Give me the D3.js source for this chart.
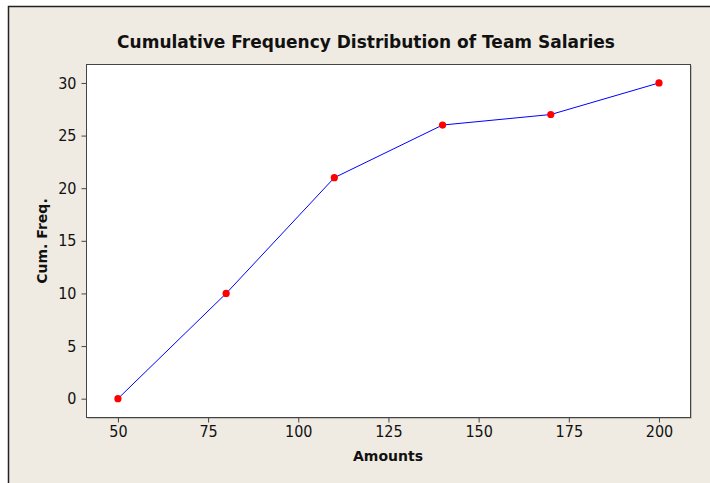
<!DOCTYPE html>
<html>
<head>
<meta charset="utf-8">
<script src="https://cdn.jsdelivr.net/npm/d3@7"></script>
<style>
  body { margin: 0; background: #fff; }
  text { font-family: "DejaVu Sans", Verdana, sans-serif; }
</style>
</head>
<body>
<script>
// data
var amounts = [50, 80, 110, 140, 170, 200];
var cumFreq = [0, 10, 21, 26, 27, 30];
var xTicks = [50, 75, 100, 125, 150, 175, 200];
var yTicks = [0, 5, 10, 15, 20, 25, 30];

var w = 710, h = 483;
var plot = {left: 86, top: 64, right: 690, bottom: 417};

var svg = d3.select("body").append("svg")
    .attr("width", w)
    .attr("height", h);

// outer frame
svg.append("rect")
    .attr("x", 8.5).attr("y", 6.5)
    .attr("width", w + 10).attr("height", h + 10)
    .attr("fill", "#efebe2")
    .attr("stroke", "#222")
    .attr("stroke-width", 1.5);

var x = d3.scaleLinear()
    .domain([41.15, 208.6])
    .range([plot.left, plot.right]);

var y = d3.scaleLinear()
    .domain([-1.74, 31.8])
    .range([plot.bottom, plot.top]);

// plot area
svg.append("rect")
    .attr("x", plot.left + 1.5).attr("y", plot.top + 1.5)
    .attr("width", plot.right - plot.left).attr("height", plot.bottom - plot.top)
    .attr("fill", "#9a968e");
svg.append("rect")
    .attr("x", plot.left + 0.5).attr("y", plot.top + 0.5)
    .attr("width", plot.right - plot.left).attr("height", plot.bottom - plot.top)
    .attr("fill", "#fff")
    .attr("stroke", "#444")
    .attr("stroke-width", 1);

var xAxis = svg.append("g")
    .attr("transform", "translate(0," + (plot.bottom + 0.5) + ")")
    .call(d3.axisBottom(x).tickValues(xTicks).tickSize(5).tickPadding(3));
var yAxis = svg.append("g")
    .attr("transform", "translate(" + (plot.left + 0.5) + ",0)")
    .call(d3.axisLeft(y).tickValues(yTicks).tickSize(5).tickPadding(5));

[xAxis, yAxis].forEach(function(a) {
    a.select(".domain").remove();
    a.selectAll(".tick line").attr("stroke", "#444");
    a.selectAll(".tick text")
        .attr("fill", "#111")
        .style("font-family", "'DejaVu Sans Condensed', 'DejaVu Sans', sans-serif")
        .style("font-size", "16px");
});

var line = d3.line()
    .x(function(d, i) { return x(amounts[i]); })
    .y(function(d) { return y(d); });

svg.append("path")
    .datum(cumFreq)
    .attr("d", line)
    .attr("fill", "none")
    .attr("stroke", "#0000ff")
    .attr("stroke-width", 1);

svg.append("g")
    .selectAll("circle")
    .data(cumFreq)
    .enter()
    .append("circle")
    .attr("cx", function(d, i) { return x(amounts[i]); })
    .attr("cy", function(d) { return y(d); })
    .attr("r", 3.6)
    .attr("fill", "#ff0000");

// titles
svg.append("text")
    .attr("x", 366).attr("y", 48)
    .attr("text-anchor", "middle")
    .attr("font-weight", "bold")
    .attr("font-size", "17px")
    .attr("fill", "#111")
    .text("Cumulative Frequency Distribution of Team Salaries");

svg.append("text")
    .attr("x", 388).attr("y", 461)
    .attr("text-anchor", "middle")
    .attr("font-weight", "bold")
    .attr("font-size", "14px")
    .attr("fill", "#111")
    .text("Amounts");

svg.append("text")
    .attr("transform", "translate(47,241) rotate(-90)")
    .attr("text-anchor", "middle")
    .attr("font-weight", "bold")
    .attr("font-size", "14px")
    .attr("fill", "#111")
    .text("Cum. Freq.");
</script>
</body>
</html>
